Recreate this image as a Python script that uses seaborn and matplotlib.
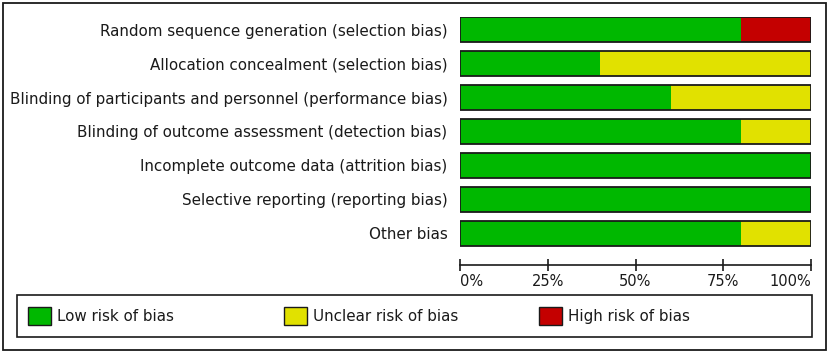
import matplotlib
matplotlib.use("Agg")
import matplotlib.pyplot as plt
import matplotlib.patches as mpatches
import seaborn as sns
import numpy as np

categories = [
    "Random sequence generation (selection bias)",
    "Allocation concealment (selection bias)",
    "Blinding of participants and personnel (performance bias)",
    "Blinding of outcome assessment (detection bias)",
    "Incomplete outcome data (attrition bias)",
    "Selective reporting (reporting bias)",
    "Other bias",
]
low = [80, 40, 60, 80, 100, 100, 80]
unclear = [0, 60, 40, 20, 0, 0, 20]
high = [20, 0, 0, 0, 0, 0, 0]
tick_values = [0, 25, 50, 75, 100]
tick_labels = ["0%", "25%", "50%", "75%", "100%"]
legend_labels = ["Low risk of bias", "Unclear risk of bias", "High risk of bias"]

GREEN = "#00b800"
YELLOW = "#e1e100"
RED = "#c40000"
INK = "#1a1a1a"

sns.set_style("white")
plt.rcParams["font.family"] = ["DejaVu Sans"]

fig = plt.figure(figsize=(8.29, 3.54), dpi=100)
ax = fig.add_axes([460 / 829, 1 - 265 / 354, (811 - 460) / 829, (265 - 17) / 354])

low_a = np.array(low)
cum_unclear = low_a + np.array(unclear)
total = cum_unclear + np.array(high)

bw = 0.74
sns.barplot(x=total, y=categories, orient="h", color=RED, saturation=1,
            width=bw, linewidth=0, ax=ax)
sns.barplot(x=cum_unclear, y=categories, orient="h", color=YELLOW, saturation=1,
            width=bw, linewidth=0, ax=ax)
sns.barplot(x=low_a, y=categories, orient="h", color=GREEN, saturation=1,
            width=bw, linewidth=0, ax=ax)
sns.barplot(x=total, y=categories, orient="h", color=INK, fill=False,
            width=bw, linewidth=1.3, ax=ax)

ax.set_xlim(0, 100)
ax.set_ylim(6 + bw / 2 + 0.56, -bw / 2)
ax.set_xlabel("")
ax.set_ylabel("")
for s in ["top", "right", "left"]:
    ax.spines[s].set_visible(False)
ax.spines["bottom"].set_color(INK)
ax.spines["bottom"].set_linewidth(1.2)
ax.set_xticks(tick_values)
ax.set_xticklabels(tick_labels)
ax.tick_params(axis="x", bottom=True, direction="inout", length=9, width=1.2, color=INK,
               labelsize=10.5, pad=2, labelcolor=INK)
xl = ax.get_xticklabels()
xl[0].set_ha("left")
xl[-1].set_ha("right")
ax.tick_params(axis="y", left=False, length=0, pad=9, labelsize=10.9, labelcolor=INK)
ax.grid(False)

# legend box
fig.add_artist(mpatches.Rectangle((17 / 829, 1 - 337 / 354), (812 - 17) / 829, 42 / 354,
                                  transform=fig.transFigure, fill=False,
                                  edgecolor=INK, linewidth=1.2))
legend_x = [28, 284, 539]
for lab, col, lx in zip(legend_labels, (GREEN, YELLOW, RED), legend_x):
    h = mpatches.Patch(facecolor=col, edgecolor=INK, linewidth=1)
    lg = fig.legend([h], [lab], loc="center left",
                    bbox_to_anchor=(lx / 829, 1 - 316 / 354), fontsize=10.9,
                    frameon=False, handlelength=1.5, handleheight=1.45,
                    handletextpad=0.4, borderpad=0, borderaxespad=0)
    for t in lg.get_texts():
        t.set_color(INK)

fig.add_artist(mpatches.Rectangle((3 / 829, 4 / 354), 823 / 829, 347 / 354,
                                  transform=fig.transFigure, fill=False,
                                  edgecolor=INK, linewidth=1.3))

fig.savefig("out.png", dpi=100)
